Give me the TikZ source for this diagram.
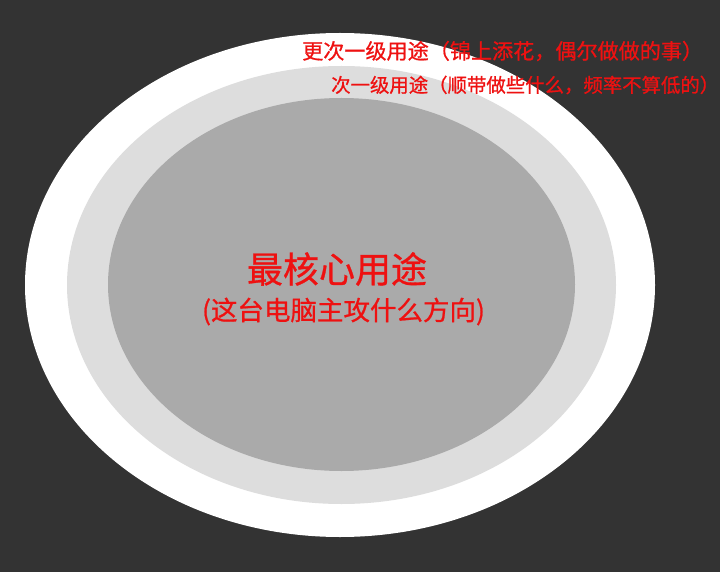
\documentclass[tikz,border=0pt]{standalone}
\usepackage{fontspec}
\newfontfamily\cjk[FakeBold=0.8]{Noto Sans CJK SC}
\definecolor{bg}{HTML}{333333}
\definecolor{ringA}{HTML}{FFFFFF}
\definecolor{ringB}{HTML}{DDDDDD}
\definecolor{ringC}{HTML}{AAAAAA}
\definecolor{txt}{HTML}{EE1111}
\begin{document}
\begin{tikzpicture}[x=1pt,y=-1pt,
  lbl/.style={inner sep=0pt,text=txt,font=\cjk}]
\fill[bg] (0,0) rectangle (720,572);
\useasboundingbox (0,0) rectangle (720,572);
\fill[ringA] (340,285) ellipse [x radius=315, y radius=252];
\fill[ringB] (341.5,285) ellipse [x radius=274.5, y radius=219];
\fill[ringC] (341.5,284.5) ellipse [x radius=233.5, y radius=186.5];
\node[lbl,anchor=west,font=\cjk\fontsize{21.1}{23}\selectfont] (t1) at (302,51) {更次一级用途（锦上添花，偶尔做做的事）};
\node[lbl,anchor=west,font=\cjk\fontsize{19.4}{21}\selectfont] (t2) at (331,85) {次一级用途（顺带做些什么，频率不算低的）};
\node[lbl,font=\cjk\fontsize{36}{38}\selectfont] (t3) at (337,269) {最核心用途};
\node[lbl,font=\cjk\fontsize{26.5}{28}\selectfont] (t4) at (343.5,311.5) {(这台电脑主攻什么方向)};
\end{tikzpicture}
\end{document}
